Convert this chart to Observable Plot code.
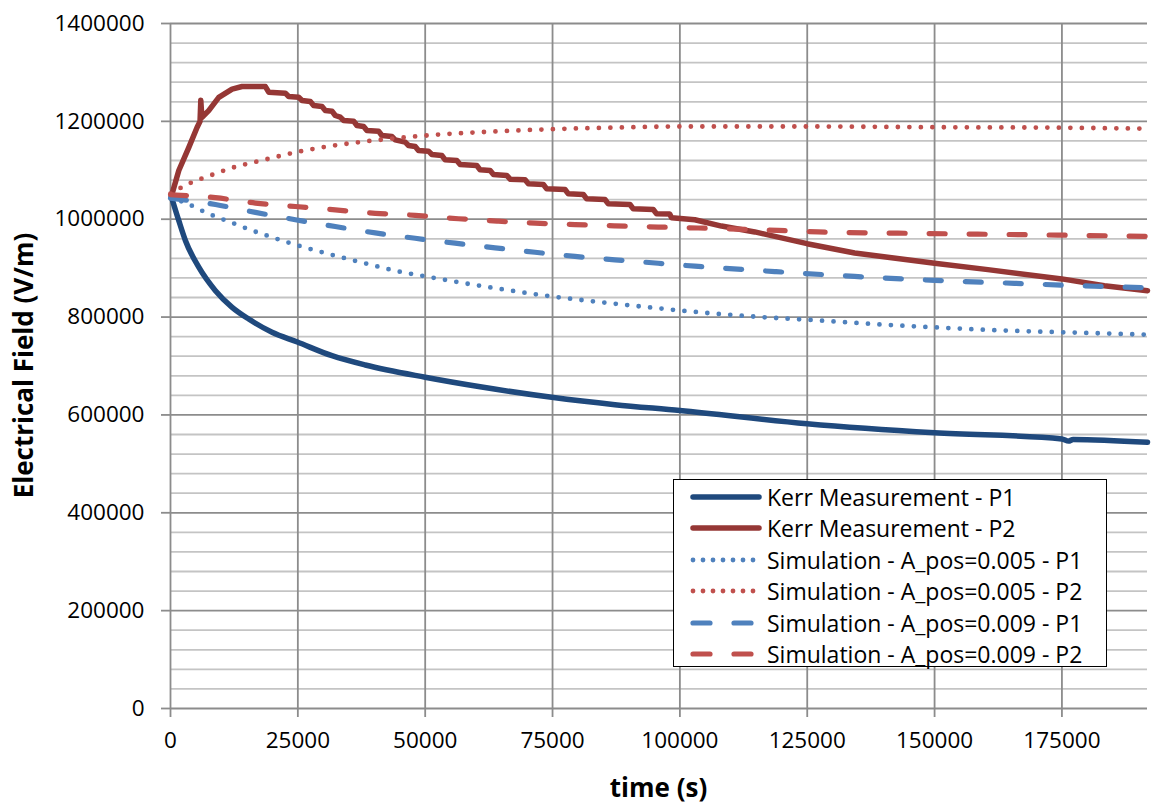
<!DOCTYPE html>
<html>
<head>
<meta charset="utf-8">
<script src="https://cdn.jsdelivr.net/npm/d3@7"></script>
<script src="https://cdn.jsdelivr.net/npm/@observablehq/plot@0.6"></script>
<style>
  html, body { margin: 0; padding: 0; background: #fff; }
  #wrap { position: relative; width: 1153px; height: 803px; font-family: "Open Sans", sans-serif; }
  #legend { position: absolute; left: 673px; top: 479px; width: 432px; height: 186px; border: 1.5px solid #000; background: #fff; box-sizing: content-box; }
  .row { position: absolute; left: 0; height: 31px; display: flex; align-items: center; font-size: 23px; color: #000; white-space: nowrap; }
  .row svg { margin-left: 16px; margin-right: 5px; }
</style>
</head>
<body>
<div id="wrap"></div>
<script>
// ---- data (time in s, field in V/m) ----
const xTicks = [0, 25000, 50000, 75000, 100000, 125000, 150000, 175000];
const yTicks = [0, 200000, 400000, 600000, 800000, 1000000, 1200000, 1400000];

const seriesNames = [
  "Kerr Measurement - P1",
  "Kerr Measurement - P2",
  "Simulation - A_pos=0.005 - P1",
  "Simulation - A_pos=0.005 - P2",
  "Simulation - A_pos=0.009 - P1",
  "Simulation - A_pos=0.009 - P2"
];

const kerrP1 = [
  [200, 1045000], [1630, 997000], [2940, 956000], [5550, 902000], [8820, 854000],
  [12100, 820000], [15350, 796000], [19930, 769000], [24900, 749000], [31700, 721000],
  [38240, 702000], [50000, 677000], [61100, 657000], [74840, 636000], [87250, 621000],
  [100000, 609000], [124970, 582000], [150000, 563500], [175000, 551000], [176300, 546500],
  [177200, 550000], [191800, 544000]
];

const kerrP2 = [
  [200, 1048000], [1630, 1099500], [3600, 1147000], [5230, 1188000], [5800, 1200000],
  [5950, 1243000], [6150, 1208000], [7500, 1222000], [9480, 1249000], [12090, 1266000],
  [14050, 1271200], [18630, 1271200], [19280, 1259700], [22550, 1257600], [23200, 1250800],
  [25160, 1249500], [25820, 1242600], [27450, 1240600], [28100, 1232400], [29740, 1230400],
  [30390, 1222200], [31700, 1220800], [32350, 1212000], [33330, 1208600], [33990, 1201800],
  [35950, 1200400], [36600, 1191500], [37910, 1189500], [38560, 1181300], [40850, 1180000],
  [41500, 1171100], [43460, 1169100], [44120, 1162200], [46080, 1157500], [46730, 1150700],
  [48040, 1148600], [48690, 1140400], [50650, 1139100], [51310, 1132300], [53270, 1130200],
  [53920, 1121400], [56210, 1120000], [56860, 1111800], [60130, 1109800], [60780, 1100900],
  [62750, 1099600], [63400, 1091400], [66010, 1089400], [66670, 1081900], [69610, 1080500],
  [70260, 1072300], [73200, 1070900], [73860, 1062100], [77450, 1060700], [78100, 1051900],
  [81050, 1050500], [81700, 1041700], [85290, 1040300], [85950, 1031400], [90200, 1030100],
  [90850, 1021200], [94770, 1019800], [95430, 1011000], [98000, 1010500], [98370, 1003000],
  [102940, 999000], [108170, 986000], [114710, 974000], [124970, 950000], [134310, 931000],
  [150000, 910000], [160460, 897000], [174970, 878000], [183330, 864000], [191800, 854000]
];

const simA005P1 = [
  [0, 1045000], [3460, 1031000], [7520, 1011000], [11760, 994000], [16020, 977000],
  [20260, 962000], [24510, 948000], [31050, 929000], [37580, 911500], [44440, 894000],
  [50980, 881500], [57840, 869000], [64380, 858000], [73530, 844000], [82690, 832500],
  [95750, 818000], [100000, 813500], [116000, 800000], [125000, 794500], [140850, 784000],
  [150000, 779000], [163700, 772500], [175000, 769000], [191800, 764000]
];

const simA005P2 = [
  [0, 1052000], [3460, 1072000], [7710, 1089000], [12100, 1105000], [18630, 1122000],
  [25160, 1138000], [31700, 1150000], [38240, 1159000], [44770, 1166000], [51310, 1172000],
  [61110, 1178000], [74840, 1184000], [90520, 1188000], [100000, 1189500], [125000, 1189500],
  [150000, 1188000], [175000, 1187000], [191800, 1185000]
];

const simA009P1 = [
  [0, 1043000], [8820, 1030000], [16670, 1014000], [24510, 999000], [32350, 985000],
  [40200, 972000], [48040, 961000], [55880, 951000], [63730, 941500], [71570, 932500],
  [79410, 924000], [87250, 917000], [95750, 910000], [102940, 904000], [118630, 893000],
  [134300, 883000], [150000, 875000], [165690, 869000], [181370, 863000], [191800, 860000]
];

const simA009P2 = [
  [0, 1050000], [8820, 1044000], [16670, 1033000], [24510, 1026000], [32350, 1019000],
  [40200, 1012000], [48040, 1008000], [56540, 1001000], [64380, 996000], [71570, 992000],
  [79410, 989000], [87250, 986500], [95750, 984000], [103600, 982000], [119300, 977000],
  [127100, 974000], [142800, 971500], [158500, 969500], [174200, 967500], [191800, 965000]
];

// ---- styles ----
const colors = ["#1F497D", "#953735", "#4F81BD", "#C0504D", "#4F81BD", "#C0504D"];
const dashes = [null, null, "0 11.5", "0 11.5", "16 24", "16 24"];
const widths = [5.5, 5.5, 4.8, 4.8, 5.2, 5.2];
const curves = ["monotone-x", "linear", "monotone-x", "monotone-x", "monotone-x", "monotone-x"];
const allSeries = [kerrP1, kerrP2, simA005P1, simA005P2, simA009P1, simA009P2];

const minorY = d3.range(40000, 1400000, 40000).filter(v => v % 200000 !== 0);
const gridMajor = "#8c8c8c";
const gridMinor = "#c4c4c4";

const W = 1153, H = 803;
const mL = 170, mR = 6, mT = 23, mB = 95;

const lineMarks = allSeries.map((s, i) => Plot.line(s, {
  x: d => d[0], y: d => d[1],
  stroke: colors[i], strokeWidth: widths[i],
  strokeDasharray: dashes[i] || undefined,
  strokeLinecap: "round", strokeLinejoin: "round",
  curve: curves[i]
}));

const chart = Plot.plot({
  width: W, height: H,
  marginLeft: mL, marginRight: mR, marginTop: mT, marginBottom: mB,
  style: { fontFamily: "Open Sans, sans-serif", fontSize: "22.5px", color: "#000", background: "#fff", overflow: "visible" },
  x: { domain: [0, 191800], label: null },
  y: { domain: [0, 1400000], label: null },
  marks: [
    Plot.ruleY(minorY, { stroke: gridMinor, strokeWidth: 1.8 }),
    Plot.ruleY(yTicks, { stroke: gridMajor, strokeWidth: 1.8 }),
    Plot.ruleX(xTicks, { stroke: gridMajor, strokeWidth: 1.8 }),
    Plot.axisY({ ticks: yTicks, tickFormat: d => String(d), tickSize: 9, tickPadding: 17, stroke: gridMajor, strokeWidth: 1.8, fill: "#000", fontSize: 22.5, label: null }),
    Plot.axisX({ ticks: xTicks, tickFormat: d => String(d), tickSize: 9, tickPadding: 15, stroke: gridMajor, strokeWidth: 1.8, fill: "#000", fontSize: 22.5, label: null }),
    ...lineMarks
  ]
});

const wrap = document.getElementById("wrap");
wrap.appendChild(chart);

// axis titles
const svg = d3.select(chart);
svg.append("text")
  .attr("x", (mL + W - mR) / 2).attr("y", 797)
  .attr("text-anchor", "middle")
  .attr("font-family", "Open Sans, sans-serif").attr("font-weight", "bold").attr("font-size", 26)
  .attr("fill", "#000")
  .text("time (s)");
svg.append("text")
  .attr("transform", `translate(33, ${(mT + H - mB) / 2}) rotate(-90)`)
  .attr("text-anchor", "middle")
  .attr("font-family", "Open Sans, sans-serif").attr("font-weight", "bold").attr("font-size", 26)
  .attr("fill", "#000")
  .text("Electrical Field (V/m)");

// legend
const legend = document.createElement("div");
legend.id = "legend";
seriesNames.forEach((name, i) => {
  const row = document.createElement("div");
  row.className = "row";
  row.style.top = (1 + i * 31.5) + "px";
  const ns = "http://www.w3.org/2000/svg";
  const s = document.createElementNS(ns, "svg");
  s.setAttribute("width", 72); s.setAttribute("height", 12);
  const l = document.createElementNS(ns, "line");
  const isDot = dashes[i] && dashes[i].startsWith("0");
  l.setAttribute("x1", 3); l.setAttribute("x2", 69);
  l.setAttribute("y1", 6); l.setAttribute("y2", 6);
  l.setAttribute("stroke", colors[i]);
  l.setAttribute("stroke-width", widths[i]);
  l.setAttribute("stroke-linecap", "round");
  if (dashes[i]) l.setAttribute("stroke-dasharray", isDot ? "0 10" : "17 24");
  s.appendChild(l);
  row.appendChild(s);
  const t = document.createElement("span");
  t.textContent = name;
  row.appendChild(t);
  legend.appendChild(row);
});
wrap.appendChild(legend);
</script>
</body>
</html>
